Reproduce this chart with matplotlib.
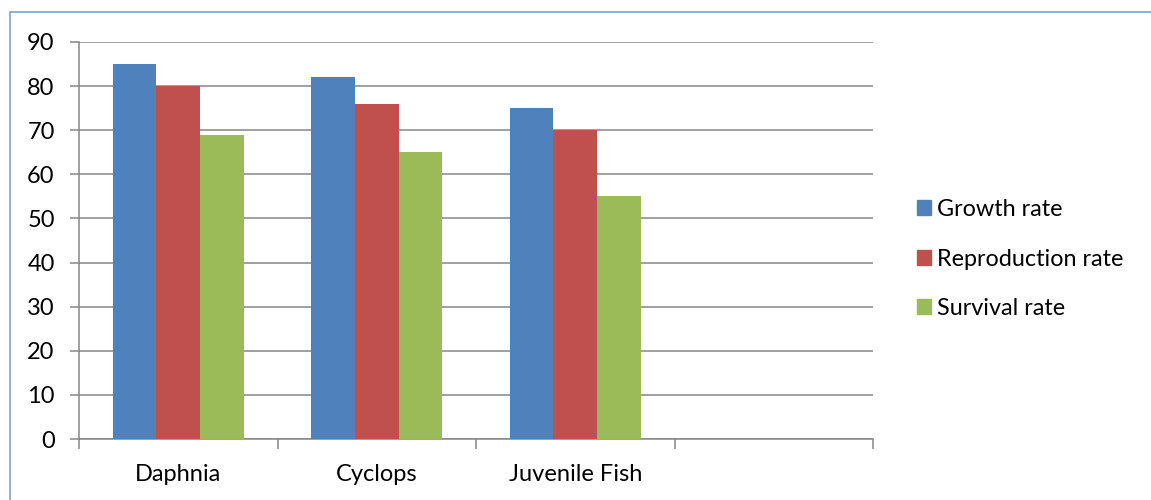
import numpy as np
import matplotlib.pyplot as plt
from matplotlib.patches import Rectangle, Patch

categories = ['Daphnia', 'Cyclops', 'Juvenile Fish', '']
growth = [85, 82, 75, np.nan]
reproduction = [80, 76, 70, np.nan]
survival = [69, 65, 55, np.nan]
series_names = ['Growth rate', 'Reproduction rate', 'Survival rate']
colors = ['#4F81BD', '#C0504D', '#9BBB59']

plt.rcParams['font.family'] = ['Lato', 'DejaVu Sans']

fig = plt.figure(figsize=(11.51, 5.0), dpi=100)
# chart border (light blue frame)
fig.patches.append(Rectangle((10 / 1151, -0.1), 1.2, (500 - 12) / 500 + 0.1,
                             transform=fig.transFigure, fill=False,
                             edgecolor='#7F9FD0', linewidth=1.2))

ax = fig.add_axes([79 / 1151, 61 / 500, (873 - 79) / 1151, (439 - 42) / 500])

x = np.arange(len(categories))
w = 0.22
for i, vals in enumerate([growth, reproduction, survival]):
    ax.bar(x + (i - 1) * w, vals, width=w, color=colors[i], zorder=3,
           label=series_names[i])

ax.set_xlim(-0.5, 3.5)
ax.set_ylim(0, 90)
ax.set_yticks(range(0, 91, 10))
ax.yaxis.grid(True, color='#868686', linewidth=1.1, zorder=0)
ax.set_axisbelow(True)

for s in ['top', 'right']:
    ax.spines[s].set_visible(False)
for s in ['left', 'bottom']:
    ax.spines[s].set_color('#868686')
    ax.spines[s].set_linewidth(1.1)

# category labels in the middle, tick marks on the boundaries
ax.set_xticks(x)
ax.set_xticklabels(categories, fontsize=17)
ax.tick_params(axis='x', length=0, pad=18)
ax.set_xticks(np.arange(-0.5, 3.6, 1), minor=True)
ax.tick_params(axis='x', which='minor', length=7, width=1.1, color='#868686')
ax.tick_params(axis='y', length=6.5, width=1.1, color='#868686', labelsize=17, pad=11)

handles = [Patch(color=c) for c in colors]
fig.legend(handles, series_names, loc='center left',
           bbox_to_anchor=(908 / 1151, (500 - 259) / 500), frameon=False,
           borderaxespad=0, fontsize=16.8, handlelength=0.6, handleheight=0.6,
           handletextpad=0.25, labelspacing=1.22)

fig.savefig('out.png', dpi=100)
